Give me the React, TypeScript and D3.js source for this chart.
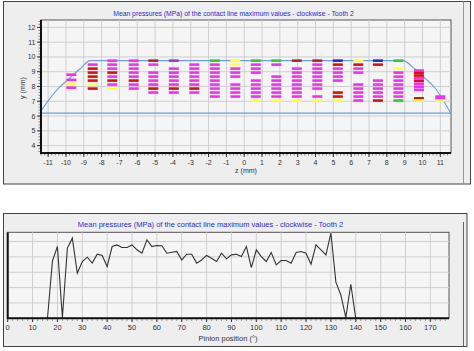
import React from "react";
import * as d3 from "d3";

// ---- top chart: contact line pressures on the tooth flank ----
const zTicks = [-11, -10, -9, -8, -7, -6, -5, -4, -3, -2, -1, 0, 1, 2, 3, 4, 5, 6, 7, 8, 9, 10, 11];
const yTicks = [4, 5, 6, 7, 8, 9, 10, 11, 12];

// z position of each contact line column
const columnZ = [-9.7, -8.5, -7.4, -6.2, -5.1, -3.95, -2.8, -1.65, -0.5, 0.65, 1.8, 2.95, 4.1, 5.25, 6.4, 7.5, 8.65, 9.8, 11.0];

// [y (mm), pressure class] for each column
const columnBars = [
  [[8.8, "m"], [8.45, "m"], [8.18, "y"], [7.92, "m"]],
  [[9.48, "m"], [9.21, "r"], [8.94, "r"], [8.67, "r"], [8.4, "r"], [8.13, "y"], [7.86, "r"]],
  [[9.75, "m"], [9.48, "m"], [9.21, "m"], [8.94, "r"], [8.67, "m"], [8.4, "r"], [8.13, "m"], [7.86, "y"]],
  [[9.75, "m"], [9.48, "m"], [9.21, "m"], [8.94, "m"], [8.67, "m"], [8.4, "r"], [8.13, "m"], [7.86, "m"]],
  [[9.75, "d"], [9.48, "m"], [8.94, "m"], [8.67, "m"], [8.4, "m"], [8.13, "m"], [7.86, "r"], [7.59, "m"]],
  [[9.75, "v"], [9.21, "m"], [8.94, "m"], [8.67, "m"], [8.4, "m"], [8.13, "m"], [7.86, "r"], [7.59, "m"]],
  [[9.48, "m"], [9.21, "m"], [8.94, "m"], [8.67, "m"], [8.4, "m"], [8.13, "m"], [7.86, "r"], [7.59, "m"]],
  [[9.75, "g"], [9.48, "m"], [9.21, "m"], [8.94, "m"], [8.67, "m"], [8.4, "m"], [8.13, "m"], [7.86, "m"], [7.59, "m"], [7.32, "m"]],
  [[9.75, "y"], [9.48, "y"], [9.21, "m"], [8.94, "m"], [8.67, "m"], [8.13, "m"], [7.86, "m"], [7.59, "m"], [7.32, "m"]],
  [[9.75, "g"], [9.48, "m"], [9.21, "m"], [8.94, "m"], [8.4, "m"], [8.13, "m"], [7.86, "m"], [7.59, "m"], [7.32, "m"], [7.05, "y"]],
  [[9.75, "g"], [9.48, "m"], [8.67, "m"], [8.4, "m"], [8.13, "m"], [7.86, "m"], [7.59, "m"], [7.32, "m"], [7.05, "y"]],
  [[9.75, "d"], [9.21, "m"], [8.94, "m"], [8.67, "m"], [8.4, "m"], [8.13, "m"], [7.86, "m"], [7.59, "m"], [7.32, "m"], [7.05, "y"]],
  [[9.75, "d"], [9.48, "m"], [9.21, "m"], [8.94, "m"], [8.67, "m"], [8.4, "m"], [8.13, "m"], [7.86, "m"], [7.32, "m"], [7.05, "y"]],
  [[9.75, "b"], [9.48, "r"], [9.21, "m"], [8.94, "m"], [8.67, "m"], [8.4, "m"], [7.59, "r"], [7.32, "r"], [7.05, "y"]],
  [[9.75, "y"], [9.48, "r"], [9.21, "m"], [8.94, "m"], [8.13, "m"], [7.86, "m"], [7.59, "m"], [7.32, "m"], [7.05, "m"]],
  [[9.75, "b"], [9.48, "r"], [8.4, "m"], [8.13, "m"], [7.86, "m"], [7.59, "m"], [7.32, "m"], [7.05, "r"]],
  [[9.75, "g"], [9.21, "y"], [8.94, "m"], [8.67, "m"], [8.4, "m"], [8.13, "m"], [7.86, "m"], [7.59, "m"], [7.32, "m"], [7.05, "g"]],
  [[9.08, "m"], [8.92, "r"], [8.74, "r"], [8.56, "m"], [8.38, "r"], [8.18, "m"], [7.98, "m"], [7.78, "m"], [7.2, "r"], [7.05, "y"]],
  [[7.32, "m"], [7.18, "m"], [7.05, "y"]],
];

// tooth flank outline (z, y)
const outlinePoints = [
  [-11.4, 6.35], [-10.9, 7.2], [-10.4, 7.9], [-9.9, 8.45], [-9.2, 9.2], [-8.65, 9.75],
  [8.9, 9.75], [9.6, 9.15], [10.2, 8.5], [10.7, 7.9], [11.2, 7.0], [11.58, 6.2],
];
const rootLineY = 6.2;

const barColors = {
  m: "#f032f0",
  r: "#dc1010",
  d: "#b02828",
  y: "#ffff3c",
  g: "#2ccc2c",
  b: "#1e2ed0",
  v: "#9a3cd0",
};

// ---- bottom chart: max pressure vs pinion position ----
const pinionTicks = [0, 10, 20, 30, 40, 50, 60, 70, 80, 90, 100, 110, 120, 130, 140, 150, 160, 170];
const pressureGrid = [0, 250, 500, 750, 1000, 1250];
const pinionAngles = [
  16, 18, 20, 22, 24, 26, 28, 30, 32, 34, 36, 38, 40, 42, 44, 46, 48, 50, 52, 54, 56, 58, 60,
  62, 64, 66, 68, 70, 72, 74, 76, 78, 80, 82, 84, 86, 88, 90, 92, 94, 96, 98, 100, 102, 104,
  106, 108, 110, 112, 114, 116, 118, 120, 122, 124, 126, 128, 130, 132, 134, 136, 138, 140,
];
const pinionPressures = [
  0, 935, 1168, 10, 1143, 1305, 733, 925, 995, 898, 1043, 1023, 843, 1168, 1195, 1153, 1153,
  1195, 1115, 1060, 1278, 1168, 1185, 1180, 1060, 1075, 1088, 950, 1043, 1043, 898, 950, 1023,
  978, 925, 1060, 968, 1033, 1043, 1005, 1168, 825, 1115, 1005, 925, 1070, 870, 940, 940, 898,
  1070, 1088, 1060, 880, 1195, 1115, 1033, 1385, 588, 380, 10, 555, 0,
];

const FONT = "'Liberation Sans', Arial, sans-serif";
const TITLE = "Mean pressures (MPa) of the contact line maximum values - clockwise - Tooth 2";

export default function App() {
  // top scales
  const x = d3.scaleLinear().domain([-11.4, 11.6]).range([41, 451]);
  const y = d3.scaleLinear().domain([3.5, 12.5]).range([153, 20]);
  const barW = 10;
  const barH = 2.6;

  const outline = d3.line()
    .x((d) => x(d[0]))
    .y((d) => y(d[1]))
    .curve(d3.curveMonotoneX);

  const xMinor = d3.range(-11.4, 11.6, 0.2);
  const yMinor = d3.range(3.6, 12.5, 0.2);

  // bottom scales
  const px = d3.scaleLinear().domain([0, 177.5]).range([7.7, 449]);
  const py = d3.scaleLinear().domain([0, 1400]).range([318.3, 232.3]);
  const pMinor = d3.range(0, 178, 2);
  const pressureLine = d3.line()
    .x((d) => px(d[0]))
    .y((d) => py(d[1]));
  const lineData = pinionAngles.map((a, i) => [a, pinionPressures[i]]);

  return (
    <svg width={474} height={351} style={{ position: "absolute", left: 0, top: 0, background: "#fff" }}
      fontFamily={FONT}>
      <defs>
        <clipPath id="topClip">
          <rect x={41} y={20} width={410} height={133} />
        </clipPath>
        <clipPath id="botClip">
          <rect x={7.7} y={232.3} width={441.3} height={86} />
        </clipPath>
      </defs>

      {/* ===== top panel ===== */}
      <rect x={3.5} y={1.5} width={467} height={182.5} fill="#eeeeee" stroke="#444" strokeWidth={1} />
      <line x1={463.5} x2={463.5} y1={1.5} y2={184} stroke="#999" />
      <text x={233.5} y={15.5} textAnchor="middle" fontSize={6.8} fill="#2b2bd0">{TITLE}</text>

      <rect x={41} y={20} width={410} height={133} fill="#f5f5f5" stroke="#555" strokeWidth={1} />
      {zTicks.map((t) => (
        <line key={"gx" + t} x1={x(t)} x2={x(t)} y1={20} y2={153} stroke="#cfcfcf" />
      ))}
      {yTicks.map((t) => (
        <line key={"gy" + t} x1={41} x2={451} y1={y(t)} y2={y(t)} stroke="#cfcfcf" />
      ))}

      <g clipPath="url(#topClip)">
        <path d={outline(outlinePoints)} fill="none" stroke="#6a9fdc" strokeWidth={1.1} />
        <line x1={41} x2={451} y1={y(rootLineY)} y2={y(rootLineY)} stroke="#6a9fdc" strokeWidth={1.1} />
        {columnBars.map((col, i) =>
          col.map((b, j) => (
            <rect
              key={i + "-" + j}
              x={x(columnZ[i]) - barW / 2}
              y={y(b[0]) - barH / 2}
              width={barW}
              height={barH}
              fill={barColors[b[1]]}
            />
          ))
        )}
      </g>

      {/* top axes */}
      <line x1={41} x2={41} y1={20} y2={154} stroke="#111" strokeWidth={2} />
      <line x1={40} x2={451} y1={153} y2={153} stroke="#111" strokeWidth={2} />
      {xMinor.map((t, i) => (
        <line key={"xm" + i} x1={x(t)} x2={x(t)} y1={154} y2={155.5} stroke="#555" strokeWidth={0.7} />
      ))}
      {zTicks.map((t) => (
        <line key={"xt" + t} x1={x(t)} x2={x(t)} y1={154} y2={157} stroke="#333" />
      ))}
      {yMinor.map((t, i) => (
        <line key={"ym" + i} x1={38.5} x2={40} y1={y(t)} y2={y(t)} stroke="#555" strokeWidth={0.7} />
      ))}
      {yTicks.map((t) => (
        <line key={"yt" + t} x1={37} x2={40} y1={y(t)} y2={y(t)} stroke="#333" />
      ))}
      {zTicks.map((t) => (
        <text key={"xl" + t} x={x(t)} y={164.5} textAnchor="middle" fontSize={7} fill="#333">{t}</text>
      ))}
      {yTicks.map((t) => (
        <text key={"yl" + t} x={35.5} y={y(t) + 2.5} textAnchor="end" fontSize={7} fill="#333">{t}</text>
      ))}
      <text x={246} y={172.5} textAnchor="middle" fontSize={7} fill="#333">z (mm)</text>
      <text transform="translate(24.5,88) rotate(-90)" textAnchor="middle" fontSize={7} fill="#333">y (mm)</text>

      {/* ===== bottom panel ===== */}
      <rect x={3.5} y={213.5} width={463.5} height={133} fill="#eeeeee" stroke="#444" strokeWidth={1} />
      <line x1={463.5} x2={463.5} y1={222} y2={346.5} stroke="#666" />
      <text x={210.5} y={227} textAnchor="middle" fontSize={7.5} fill="#2b2bd0">{TITLE}</text>

      <rect x={7.7} y={232.3} width={441.3} height={86} fill="#f5f5f5" stroke="#555" strokeWidth={1} />
      {pinionTicks.map((t) => (
        <line key={"pg" + t} x1={px(t)} x2={px(t)} y1={232.3} y2={318.3} stroke="#cfcfcf" />
      ))}
      {pressureGrid.map((t) => (
        <line key={"pgy" + t} x1={7.7} x2={449} y1={py(t)} y2={py(t)} stroke="#cfcfcf" />
      ))}
      <g clipPath="url(#botClip)">
        <path d={pressureLine(lineData)} fill="none" stroke="#333" strokeWidth={1.1} />
      </g>
      <line x1={7.7} x2={7.7} y1={232.3} y2={319} stroke="#111" strokeWidth={2} />
      <line x1={7} x2={449} y1={318.3} y2={318.3} stroke="#111" strokeWidth={2} />
      {pMinor.map((t) => (
        <line key={"pm" + t} x1={px(t)} x2={px(t)} y1={319.3} y2={320.8} stroke="#555" strokeWidth={0.7} />
      ))}
      {pinionTicks.map((t) => (
        <line key={"pt" + t} x1={px(t)} x2={px(t)} y1={319.3} y2={322} stroke="#333" />
      ))}
      {pinionTicks.map((t) => (
        <text key={"pl" + t} x={px(t)} y={330} textAnchor="middle" fontSize={7.5} fill="#333">{t}</text>
      ))}
      <text x={228} y={340.5} textAnchor="middle" fontSize={7.5} fill="#333">Pinion position (°)</text>
    </svg>
  );
}
